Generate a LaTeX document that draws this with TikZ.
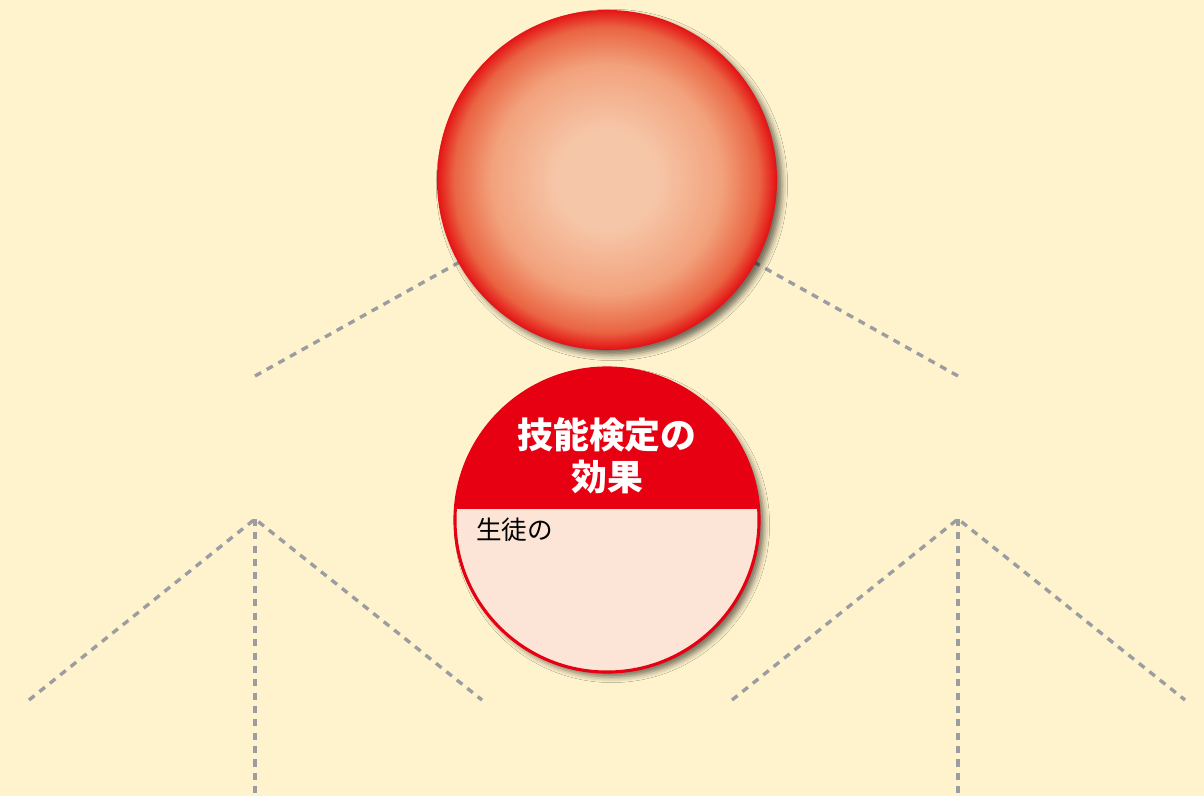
\documentclass[tikz,border=0pt]{standalone}
\usepackage{fontspec}
\newfontfamily\cjk{Noto Sans CJK JP}
\usetikzlibrary{shadows.blur}
\definecolor{bgcream}{RGB}{255,243,205}
\definecolor{dashgray}{RGB}{155,157,160}
\definecolor{kred}{RGB}{230,0,18}
\definecolor{bodypeach}{RGB}{252,228,214}
\definecolor{ballin}{RGB}{246,198,168}
\definecolor{ballmida}{RGB}{242,162,124}
\definecolor{ballmidb}{RGB}{234,100,66}
\definecolor{ballout}{RGB}{228,20,22}
\tikzset{
  guide/.style={draw=dashgray, line width=2.4pt, dash pattern=on 5pt off 4.5pt},
  ballshadow/.style={blur shadow={shadow xshift=3.5pt, shadow yshift=-3.5pt, shadow blur radius=4pt, shadow opacity=55}},
  titletext/.style={text=white, inner sep=0pt, font=\cjk\bfseries\fontsize{25.5}{30}\selectfont},
  bodytext/.style={text=black, inner sep=0pt, anchor=west, font=\cjk\fontsize{18.2}{22}\selectfont}
}
\begin{document}
\begin{tikzpicture}[x=0.025cm,y=-0.025cm]
\useasboundingbox (0,0) rectangle (1204,796);
\fill[bgcream] (0,0) rectangle (1204,796);
% guide coordinates
\coordinate (tl) at (255,376);
\coordinate (tr) at (958,376);
\coordinate (la) at (255,519);
\coordinate (la1) at (29,700);
\coordinate (la2) at (482,700);
\coordinate (lab) at (255,796);
\coordinate (ra) at (958,519);
\coordinate (ra1) at (732,700);
\coordinate (ra2) at (1185,700);
\coordinate (rab) at (958,796);
\coordinate (topc) at (607,180);
% guides
\draw[guide] (tl) -- (topc);
\draw[guide] (tr) -- (topc);
\draw[guide] (la1) -- (la) -- (la2);
\draw[guide] (la) -- (lab);
\draw[guide] (ra1) -- (ra) -- (ra2);
\draw[guide] (ra) -- (rab);
% top ball
\node[circle, minimum size=8.5cm, inner sep=0pt, fill=ballout, ballshadow] (top) at (topc) {};
\foreach \i in {1,...,169}{
  \pgfmathsetmacro\t{1-\i/170}
  \ifdim \t pt > 0.9pt
    \pgfmathsetmacro\p{100*(\t-0.9)/0.1}\colorlet{cur}{ballout!\p!ballmidb}
  \else\ifdim \t pt > 0.68pt
    \pgfmathsetmacro\p{100*(\t-0.68)/0.22}\colorlet{cur}{ballmidb!\p!ballmida}
  \else\ifdim \t pt > 0.3pt
    \pgfmathsetmacro\p{100*(\t-0.3)/0.38}\colorlet{cur}{ballmida!\p!ballin}
  \else
    \colorlet{cur}{ballin}
  \fi\fi\fi
  \fill[cur] (top.center) circle[radius=\t*4.25cm];
}
% lower circle
\node[circle, minimum size=7.6cm, inner sep=0pt, fill=bodypeach, ballshadow] (bot) at (607,520) {};
\begin{scope}
  \clip (bot.center) circle[radius=3.8cm];
  \fill[kred] (440,360) rectangle (780,509);
\end{scope}
\draw[kred, line width=2.2pt] (bot.center) circle[radius=3.8cm];
\node[titletext] (t1) at (607,435) {技能検定の};
\node[titletext] (t2) at (607,477) {効果};
\node[bodytext] (stu) at (476,530) {生徒の};
\end{tikzpicture}
\end{document}
